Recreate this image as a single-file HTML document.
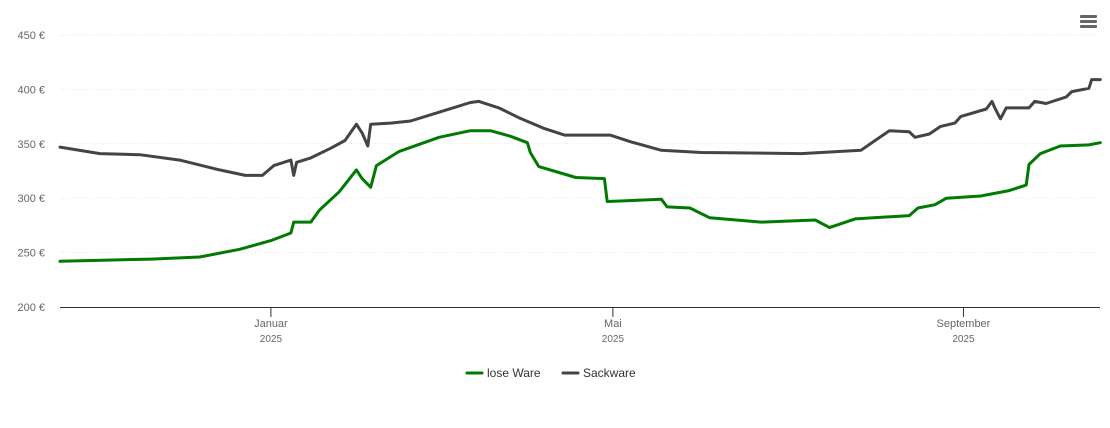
<!DOCTYPE html>
<html><head><meta charset="utf-8"><style>
body{margin:0;background:#fff;font-family:"Liberation Sans",sans-serif;}
svg text{font-family:"Liberation Sans",sans-serif;}
</style></head><body>
<svg id="chart" width="1110" height="423">
<g id="grid"></g><g id="series"></g><g id="axes"></g>
<g fill="#666">
<rect x="1080" y="15" width="17" height="3" rx="1"/><rect x="1080" y="20" width="17" height="3" rx="1"/><rect x="1080" y="25" width="17" height="3" rx="1"/>
</g>
<g>
<line x1="467" y1="373" x2="482" y2="373" stroke="#007a00" stroke-width="3" stroke-linecap="round"/>
<text x="487" y="377" font-size="12" fill="#333">lose Ware</text></g>
<g>
<line x1="563" y1="373" x2="578" y2="373" stroke="#444" stroke-width="3" stroke-linecap="round"/>
<text x="583" y="377" font-size="12" fill="#333">Sackware</text></g>
</svg>
<script>
const yTicks=[200,250,300,350,400,450];
const xTickDays=[74,194,317];
const xTickLabels=["Januar","Mai","September"];
const xTickYears=["2025","2025","2025"];
const looseDays=[0,32,49,63,74,81,82,88,91,98,104,106,109,111,119,133,144,151,158,164,165,168,181,191,192,211,213,221,228,246,265,270,279,298,301,307,311,323,333,339,340,344,351,361,365];
const looseVals=[242,244,246,253,261,268,278,278,289,306,326,318,310,330,343,356,362,362,357,351,342,329,319,318,297,299,292,291,282,278,280,273,281,284,291,294,300,302,307,312,331,341,348,349,351];
const sackDays=[0,14,28,42,56,65,71,75,81,82,83,88,95,100,104,106,108,109,116,123,133,144,147,154,161,170,177,193,200,211,225,260,281,286,291,298,300,305,309,314,316,325,327,328,330,332,340,342,346,353,355,361,362,365];
const sackVals=[347,341,340,335,326,321,321,330,335,321,333,337,346,353,368,360,348,368,369,371,379,388,389,383,374,364,358,358,352,344,342,341,344,353,362,361,356,359,366,369,375,382,389,383,373,383,383,389,387,393,398,401,409,409];
const X=d=>60+d*2.85, Y=v=>307-(v-200)*1.088;
const ns="http://www.w3.org/2000/svg";
const mk=(t,a,p)=>{const e=document.createElementNS(ns,t);for(const k in a)e.setAttribute(k,a[k]);p.appendChild(e);return e;};
const grid=document.getElementById('grid'),axes=document.getElementById('axes'),ser=document.getElementById('series');
yTicks.forEach(v=>{
 if(v>200){const l=mk('line',{x1:60,x2:1100,y1:Y(v),y2:Y(v),stroke:'#e6e6e6','stroke-dasharray':'1,2'},grid);
 
 }
 const t=mk('text',{x:45,y:Y(v)+4,'text-anchor':'end','font-size':'11',fill:'#666'},axes);t.textContent=v+' €';
 
 
});
const ax=mk('line',{x1:60,x2:1100,y1:307.5,y2:307.5,stroke:'#333'},axes);


xTickDays.forEach((d,i)=>{
 const x=X(d);
 mk('line',{x1:x,x2:x,y1:307,y2:317,stroke:'#333'},axes);
 const t=mk('text',{x:x,y:327,'text-anchor':'middle','font-size':'11',fill:'#666'},axes);t.textContent=xTickLabels[i];
 
 
 const t2=mk('text',{x:x,y:342,'text-anchor':'middle','font-size':'10',fill:'#666'},axes);t2.textContent=xTickYears[i];
 
 
});
function line(days,vals,color,name){
 const d=days.map((dd,i)=>(i?'L':'M')+X(dd).toFixed(1)+','+Y(vals[i]).toFixed(1)).join('');
 const p=mk('path',{d:d,fill:'none',stroke:color,'stroke-width':3,'stroke-linejoin':'round','stroke-linecap':'round'},ser);
 
 
}
line(sackDays,sackVals,'#444','series-sackware');
line(looseDays,looseVals,'#007a00','series-lose-ware');
</script>
</body></html>
